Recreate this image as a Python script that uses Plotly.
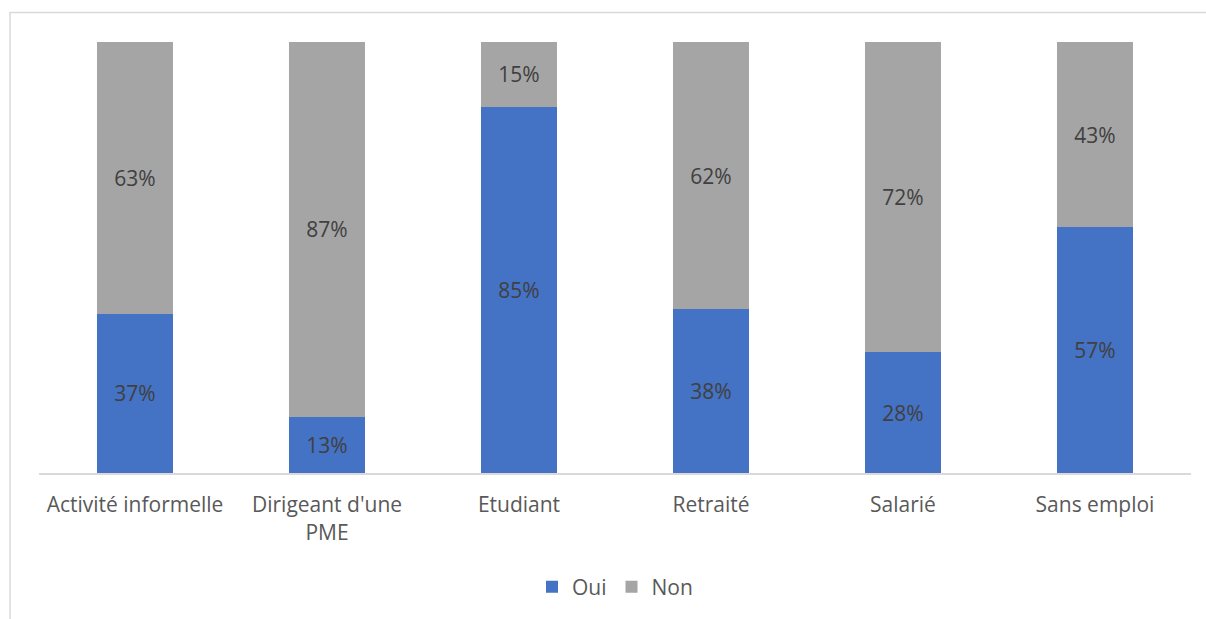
import plotly.graph_objects as go

categories = ["Activité informelle", "Dirigeant d'une<br>PME", "Etudiant", "Retraité", "Salarié", "Sans emploi"]
oui = [37, 13, 85, 38, 28, 57]
non = [63, 87, 15, 62, 72, 43]

BLUE = "#4472C4"
GREY = "#A5A5A5"
FONT = "Open Sans"

W, H = 1206, 619
ML, MR, MT, MB = 39, 15, 42, 146
pw, ph = W - ML - MR, H - MT - MB

fig = go.Figure()
for name, vals, col in [("Oui", oui, BLUE), ("Non", non, GREY)]:
    fig.add_trace(go.Bar(
        x=categories, y=vals, name=name, marker=dict(color=col, line=dict(width=0)),
        text=[f"{v}%" for v in vals], textposition="inside", insidetextanchor="middle",
        textfont=dict(family=FONT, size=21, color="#404040"),
        width=0.4,
    ))

# outer chart frame (light grey)
fig.add_shape(type="rect", xref="paper", yref="paper",
              x0=(10 - ML) / pw, x1=(W + 20 - ML) / pw,
              y0=-(H + 20 - MT - ph) / ph, y1=1 + (MT - 12.5) / ph,
              line=dict(color="#D9D9D9", width=1.5), fillcolor="rgba(0,0,0,0)", layer="below")

fig.update_layout(
    width=W, height=H, barmode="stack",
    margin=dict(l=ML, r=MR, t=MT, b=MB),
    plot_bgcolor="white", paper_bgcolor="white",
    font=dict(family=FONT, size=21, color="#595959"),
    showlegend=True,
    legend=dict(orientation="h", x=0.5, xanchor="center", y=-(587 - MT - ph) / ph, yanchor="middle",
                font=dict(family=FONT, size=21, color="#595959"), itemwidth=30, traceorder="normal"),
    uniformtext=dict(mode=False),
)
fig.update_xaxes(showline=True, linecolor="#D9D9D9", linewidth=2, ticks="", showgrid=False,
                 ticklabelstandoff=12,
                 tickfont=dict(family=FONT, size=21, color="#595959"))
fig.update_yaxes(range=[0, 100], visible=False, showgrid=False)

fig.write_html("out.html")
